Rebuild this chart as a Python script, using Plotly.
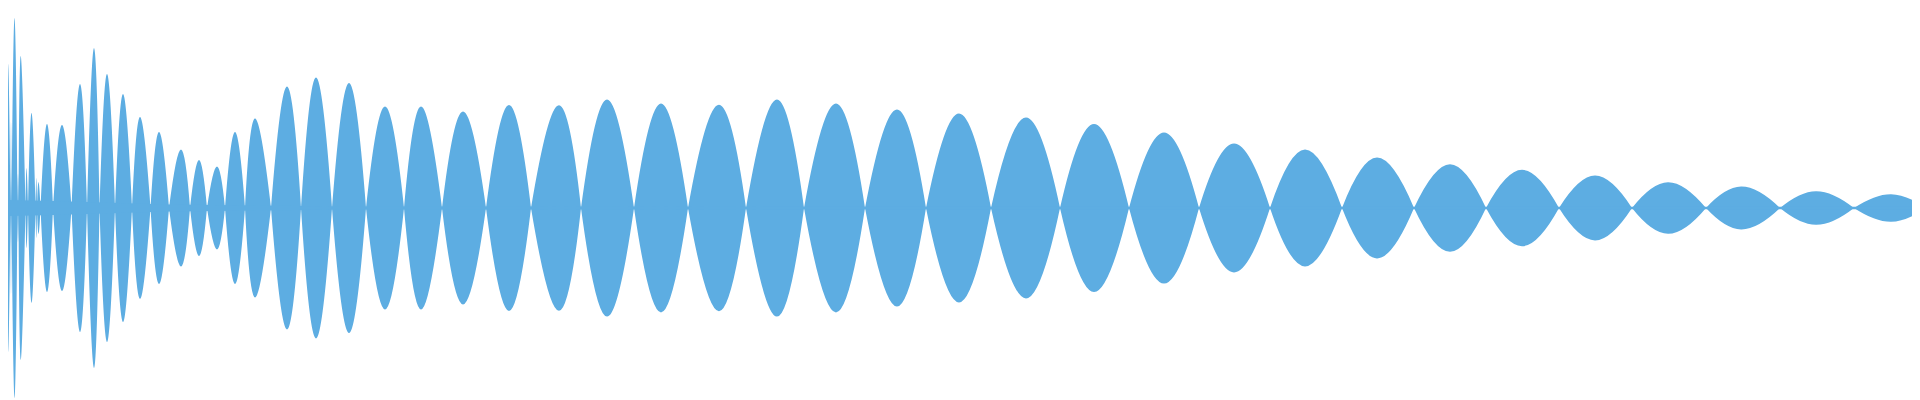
import plotly.graph_objects as go

# Lobe boundaries (zero crossings) along the time axis, in sample columns
crossings = [0, 2.5, 3.5, 9.5, 10.5, 17.5, 20, 27.5, 29, 32.5, 45, 63.5, 79, 91.5,
             107, 124, 142.5, 161, 182, 199, 217, 237, 263, 293, 324, 358, 396,
             434, 478, 523, 573, 626, 680, 738, 796, 857, 918, 983, 1052, 1121,
             1191, 1262, 1334, 1406, 1478, 1551, 1624, 1698, 1772, 1846, 1918,
             1919.8]

# Position of each lobe's peak
peak_x = [0.3, 3, 6.5, 10, 12.7, 18.5, 23.5, 28.3, 30.5, 39, 54, 72, 86, 99,
          115, 132, 151, 173, 191, 209, 227, 247, 279, 308, 341, 377, 413,
          455, 501, 551, 599, 653, 711, 769, 828, 889, 951, 1018, 1086, 1156,
          1226, 1297, 1369, 1442, 1514, 1587, 1660, 1733, 1808, 1883, 1919.2]

# Peak amplitude of each lobe (normalised, full scale = 1)
peak_amp = [0.72, 0.43, 0.95, 0.17, 0.76, 0.2, 0.475, 0.15, 0.13, 0.42, 0.415,
            0.62, 0.80, 0.67, 0.57, 0.455, 0.38, 0.293, 0.24, 0.207, 0.38, 0.447,
            0.607, 0.652, 0.625, 0.507, 0.507, 0.482, 0.515, 0.514, 0.543, 0.522,
            0.516, 0.543, 0.522, 0.493, 0.472, 0.452, 0.42, 0.378, 0.322, 0.292,
            0.252, 0.219, 0.191, 0.162, 0.129, 0.107, 0.084, 0.069, 0.03]

# Low-level noise floor around the centre line
floor_x = [0, 45, 160, 330, 1919]
floor_amp = [0.04, 0.035, 0.018, 0.007, 0.006]

COLOR = "rgb(93,173,226)"

top_x, top_y = [], []
for i in range(len(peak_amp)):
    top_x += [crossings[i], peak_x[i], crossings[i + 1], None]
    top_y += [0, peak_amp[i], 0, None]
bot_y = [None if v is None else -v for v in top_y]

fig = go.Figure()
for ys in (top_y, bot_y):
    fig.add_trace(go.Scatter(
        x=top_x, y=ys, mode="lines",
        line=dict(width=0, shape="spline", smoothing=1.3, color=COLOR),
        fill="tozeroy", fillcolor=COLOR, connectgaps=False, hoverinfo="skip",
        showlegend=False))

fig.add_trace(go.Scatter(
    x=floor_x + floor_x[::-1], y=floor_amp + [-a for a in floor_amp[::-1]],
    mode="lines", line=dict(width=0, color=COLOR), fill="toself", fillcolor=COLOR,
    hoverinfo="skip", showlegend=False))

fig.update_layout(
    width=1920, height=400,
    margin=dict(l=0, r=0, t=0, b=0),
    paper_bgcolor="white", plot_bgcolor="white",
    xaxis=dict(range=[0, 1920], visible=False, showgrid=False, zeroline=False),
    yaxis=dict(range=[-1, 1], visible=False, showgrid=False, zeroline=False),
)

fig.write_html("out.html")
